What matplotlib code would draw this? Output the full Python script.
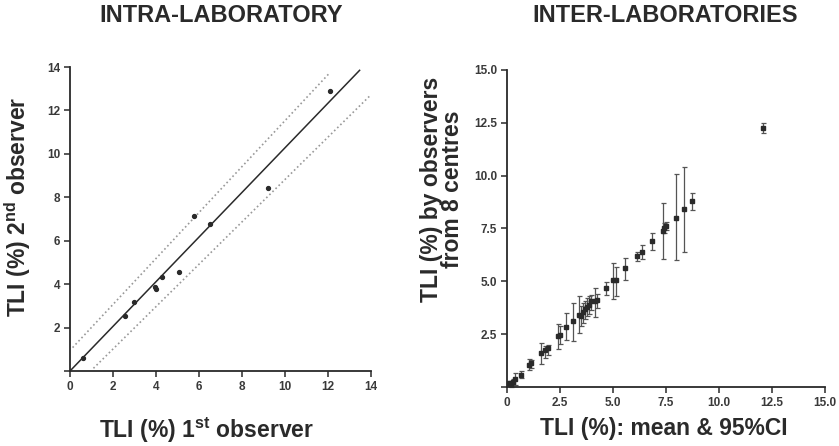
import matplotlib
matplotlib.use("Agg")
import matplotlib.pyplot as plt
import numpy as np

plt.rcParams['font.family'] = ['Liberation Sans', 'DejaVu Sans']
plt.rcParams['mathtext.fontset'] = 'custom'
plt.rcParams['mathtext.rm'] = 'Liberation Sans:bold'
plt.rcParams['mathtext.bf'] = 'Liberation Sans:bold'

INK = '#2a2a2a'

# Intra-laboratory: 1st vs 2nd observer
obs1 = [0.62, 2.56, 2.98, 3.96, 3.99, 4.28, 5.08, 5.79, 6.50, 9.20, 12.08]
obs2 = [0.61, 2.55, 3.17, 3.89, 3.77, 4.35, 4.55, 7.16, 6.75, 8.44, 12.91]

# regression line and dotted limits (x-range, intercept, slope)
fit_x = [0.0, 13.47]
fit_b, fit_m = 0.0, 1.028
upper_x = [0.12, 12.1]
upper_b, upper_m = 0.95, 1.058
lower_x = [1.09, 14.0]
lower_b, lower_m = -0.94, 0.976

# Inter-laboratories: mean and 95% CI
mean_x = [0.10, 0.20, 0.30, 0.39, 0.65, 1.04, 1.15, 1.62, 1.78, 1.94,
          2.41, 2.52, 2.80, 3.09, 3.40, 3.48, 3.59, 3.70, 3.79, 3.87,
          3.98, 4.14, 4.25, 4.69, 5.01, 5.12, 5.57, 6.15, 6.37, 6.86,
          7.34, 7.41, 7.48, 7.96, 8.36, 8.74, 12.09]
obs_y = [0.20, 0.15, 0.25, 0.38, 0.58, 1.06, 1.13, 1.61, 1.76, 1.84,
         2.43, 2.47, 2.82, 3.10, 3.42, 3.34, 3.53, 3.69, 3.78, 3.89,
         4.05, 4.05, 4.13, 4.68, 5.04, 5.04, 5.61, 6.21, 6.37, 6.92,
         7.39, 7.52, 7.63, 7.99, 8.43, 8.82, 12.24]
ci_low = [0.05, 0.02, 0.10, 0.11, 0.43, 0.82, 0.90, 1.10, 1.37, 1.53,
          1.80, 2.05, 2.24, 2.16, 2.55, 2.87, 3.02, 3.21, 3.34, 3.47,
          3.62, 3.29, 3.73, 4.36, 4.16, 4.32, 5.07, 5.94, 6.05, 6.49,
          6.05, 7.28, 7.45, 5.99, 6.41, 8.38, 12.03]
ci_high = [0.30, 0.28, 0.40, 0.66, 0.74, 1.32, 1.29, 2.08, 1.95, 2.00,
           2.99, 2.87, 3.50, 3.97, 4.29, 3.81, 3.97, 4.05, 4.21, 4.32,
           4.36, 4.68, 4.41, 4.99, 5.89, 5.70, 6.10, 6.41, 6.73, 7.31,
           8.70, 7.75, 7.80, 10.08, 10.43, 9.20, 12.50]

fig = plt.figure(figsize=(8.39, 4.46), dpi=100)


def style_axes(ax):
    for s in ['top', 'right']:
        ax.spines[s].set_visible(False)
    for s in ['left', 'bottom']:
        ax.spines[s].set_color(INK)
        ax.spines[s].set_linewidth(1.3)
    ax.tick_params(direction='out', length=4, width=1.1, color=INK,
                   labelcolor='#3a3a3a', labelsize=8.5, pad=3)
    for lab in ax.get_xticklabels() + ax.get_yticklabels():
        lab.set_fontweight('bold')


# left panel
ax1 = fig.add_axes([70 / 839, 1 - 371 / 446, 301 / 839, 304 / 446])
ax1.set_xlim(0, 14)
ax1.set_ylim(0, 14)
ax1.set_xticks(range(0, 15, 2))
ax1.set_yticks(range(0, 15, 2))
ax1.set_yticklabels([''] + [str(v) for v in range(2, 15, 2)])

fx = np.array(fit_x)
ax1.plot(fx, fit_b + fit_m * fx, color=INK, lw=1.1)
ux = np.array(upper_x)
ax1.plot(ux, upper_b + upper_m * ux, color='#999999', lw=1.2, ls=(0, (1, 1.6)))
lx = np.array(lower_x)
ax1.plot(lx, lower_b + lower_m * lx, color='#999999', lw=1.2, ls=(0, (1, 1.6)))
ax1.plot(obs1, obs2, 'o', color=INK, ms=2.8, clip_on=False)
style_axes(ax1)

# right panel
ax2 = fig.add_axes([507 / 839, 1 - 387 / 446, 318 / 839, 317 / 446])
ax2.set_xlim(0, 15)
ax2.set_ylim(0, 15)
ticks = [0, 2.5, 5.0, 7.5, 10.0, 12.5, 15.0]
ax2.set_xticks(ticks)
ax2.set_xticklabels(['0'] + ['%.1f' % t for t in ticks[1:]])
ax2.set_yticks(ticks)
ax2.set_yticklabels([''] + ['%.1f' % t for t in ticks[1:]])

yerr = [np.array(obs_y) - np.array(ci_low), np.array(ci_high) - np.array(obs_y)]
ax2.errorbar(mean_x, obs_y, yerr=yerr, fmt='s', color=INK, ms=2.6,
             ecolor='#555555', elinewidth=0.9, capsize=1.8, capthick=0.9,
             clip_on=False)
style_axes(ax2)

# titles and axis labels
fig.text(221 / 839, 1 - 16 / 446, 'INTRA-LABORATORY', ha='center', va='center',
         fontsize=17, fontweight='bold', color=INK)
fig.text(665 / 839, 1 - 16 / 446, 'INTER-LABORATORIES', ha='center', va='center',
         fontsize=17, fontweight='bold', color=INK)

fig.text(18 / 839, 1 - 207 / 446, r'TLI (%) 2$^{\rm nd}$ observer', rotation=90,
         ha='center', va='center', fontsize=16.5, fontweight='bold', color=INK)
fig.text(207 / 839, 1 - 430 / 446, r'TLI (%) 1$^{\rm st}$ observer',
         ha='center', va='center', fontsize=16.5, fontweight='bold', color=INK)
fig.text(442 / 839, 1 - 189 / 446, 'TLI (%) by observers\nfrom 8 centres',
         rotation=90, ha='center', va='center', fontsize=16.5, fontweight='bold',
         color=INK, linespacing=0.9, multialignment='center')
fig.text(664 / 839, 1 - 428 / 446, 'TLI (%): mean & 95%CI',
         ha='center', va='center', fontsize=16.5, fontweight='bold', color=INK)

fig.savefig('out.png', dpi=100, facecolor='white')
